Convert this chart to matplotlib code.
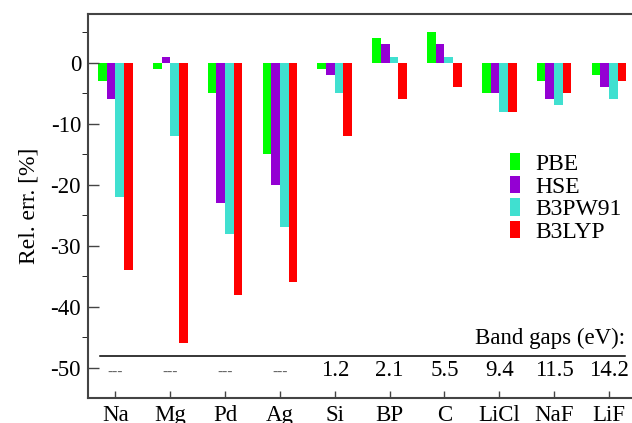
import numpy as np
import matplotlib
matplotlib.use("Agg")
import matplotlib.pyplot as plt

plt.rcParams['font.family'] = ['Liberation Serif', 'DejaVu Serif']
plt.rcParams['axes.unicode_minus'] = False

# Data
systems = ['Na', 'Mg', 'Pd', 'Ag', 'Si', 'BP', 'C', 'LiCl', 'NaF', 'LiF']
band_gaps = ['---', '---', '---', '---', '1.2', '2.1', '5.5', '9.4', '11.5', '14.2']
pbe = [-3, -1, -5, -15, -1, 4, 5, -5, -3, -2]
hse = [-6, 1, -23, -20, -2, 3, 3, -5, -6, -4]
b3pw91 = [-22, -12, -28, -27, -5, 1, 1, -8, -7, -6]
b3lyp = [-34, -46, -38, -36, -12, -6, -4, -8, -5, -3]

series = [('PBE', pbe, '#00ff00'),
          ('HSE', hse, '#9400d3'),
          ('B3PW91', b3pw91, '#40e0d0'),
          ('B3LYP', b3lyp, '#ff0000')]

W, H = 632, 423
fig = plt.figure(figsize=(W / 100, H / 100), dpi=100)
ax = fig.add_axes([88 / W, (H - 398.3) / H, (636.3 - 88) / W, (398.3 - 14) / H])

x = np.arange(1, len(systems) + 1)
bw = 0.158
for k, (name, vals, col) in enumerate(series):
    ax.bar(x + (k - 1.5) * bw, vals, bw, color=col, label=name, linewidth=0)

ax.set_xlim(0.5, 10.5)
ax.set_ylim(-55, 8)
ax.set_xticks(x)
ax.set_xticklabels(systems)
ax.set_yticks([0, -10, -20, -30, -40, -50])
ax.set_yticks(np.arange(5, -55, -10), minor=True)
ax.tick_params(axis='both', direction='in', labelsize=16.5, color='#444444', width=1)
ax.tick_params(axis='y', which='major', length=8, pad=5)
ax.tick_params(axis='y', which='minor', length=4.5)
ax.tick_params(axis='x', length=5, pad=5)
for s in ax.spines.values():
    s.set_color('#444444')
    s.set_linewidth(1.5)
ax.set_ylabel('Rel. err. [%]', fontsize=17, labelpad=8)

# band gap table inside the plot
ax.plot([0.72, 10.3], [-48, -48], color='black', lw=1.1)
ax.text(10.3, -45.2, 'Band gaps (eV):', ha='right', va='center', fontsize=16.5)
for xi, g in zip(x, band_gaps):
    if g == '---':
        ax.text(xi, -50.8, g, ha='center', va='center', fontsize=11, color='#666666')
    else:
        ax.text(xi, -50.4, g, ha='center', va='center', fontsize=16.5)

ax.legend(loc='upper left', bbox_to_anchor=(510 / W, 1 - 153 / H),
          bbox_transform=fig.transFigure, frameon=False, fontsize=17,
          handlelength=0.42, handleheight=0.76, labelspacing=0.03,
          handletextpad=0.64, borderpad=0, borderaxespad=0)

fig.savefig('out.png', dpi=100)
